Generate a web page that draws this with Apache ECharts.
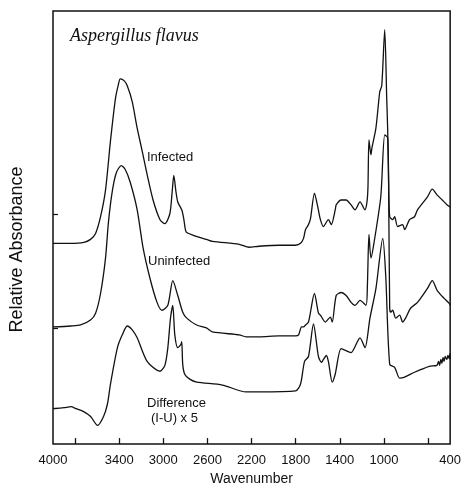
<!DOCTYPE html>
<html>
<head>
<meta charset="utf-8">
<script src="https://cdn.jsdelivr.net/npm/echarts@6/dist/echarts.min.js"></script>
<style>
  html, body { margin: 0; padding: 0; background: #fff; }
  #chart { width: 464px; height: 491px; }
</style>
</head>
<body>
<div id="chart"></div>
<script>
// [wavenumber, relative absorbance]
var infected = [
  [4000, 2.04], [3840, 2.04], [3720, 2.05], [3660, 2.08], [3614, 2.14], [3569, 2.31],
  [3524, 2.58], [3479, 3.08], [3434, 3.51], [3408, 3.65], [3390, 3.71], [3354, 3.69],
  [3327, 3.64], [3282, 3.48], [3237, 3.21], [3192, 2.98], [3147, 2.74], [3093, 2.48],
  [3030, 2.28], [2986, 2.24], [2941, 2.34], [2920, 2.56], [2905, 2.73], [2885, 2.56],
  [2869, 2.46], [2833, 2.38], [2815, 2.29], [2800, 2.18], [2788, 2.15], [2700, 2.11],
  [2609, 2.08], [2555, 2.06], [2312, 2.03], [2223, 2.00], [2133, 2.01], [1953, 2.02],
  [1801, 2.02], [1756, 2.04], [1729, 2.09], [1711, 2.18], [1684, 2.23], [1666, 2.29],
  [1630, 2.55], [1600, 2.41], [1576, 2.28], [1549, 2.21], [1504, 2.28], [1477, 2.23],
  [1440, 2.39], [1433, 2.43], [1388, 2.48], [1343, 2.48], [1298, 2.43], [1262, 2.38],
  [1217, 2.46], [1172, 2.38], [1154, 2.46], [1145, 2.61], [1136, 3.09], [1118, 2.94],
  [1109, 3.01], [1073, 3.21], [1038, 3.58], [1020, 3.64], [993, 4.21], [975, 3.51],
  [966, 3.18], [957, 2.61], [948, 2.31], [921, 2.28], [903, 2.31], [876, 2.21],
  [831, 2.23], [813, 2.18], [768, 2.28], [723, 2.31], [696, 2.38], [607, 2.51],
  [562, 2.59], [517, 2.53], [472, 2.48], [427, 2.43], [400, 2.41]
];
var uninfected = [
  [4000, 1.19], [3840, 1.20], [3750, 1.21], [3660, 1.26], [3614, 1.33], [3569, 1.53],
  [3524, 1.89], [3497, 2.26], [3461, 2.58], [3425, 2.76], [3381, 2.83], [3345, 2.79],
  [3300, 2.66], [3237, 2.38], [3183, 1.99], [3120, 1.68], [3057, 1.44], [3012, 1.36],
  [2959, 1.41], [2914, 1.66], [2869, 1.51], [2824, 1.34], [2788, 1.28], [2698, 1.21],
  [2609, 1.18], [2555, 1.14], [2312, 1.11], [2249, 1.09], [2133, 1.09], [1953, 1.10],
  [1801, 1.10], [1774, 1.11], [1747, 1.19], [1729, 1.19], [1711, 1.21], [1684, 1.24],
  [1630, 1.53], [1594, 1.33], [1576, 1.31], [1531, 1.24], [1486, 1.29], [1469, 1.24],
  [1433, 1.51], [1388, 1.54], [1343, 1.51], [1298, 1.44], [1262, 1.41], [1217, 1.46],
  [1163, 1.41], [1150, 1.62], [1136, 2.13], [1118, 1.89], [1091, 2.04], [1029, 2.51],
  [993, 3.14], [966, 3.11], [957, 2.51], [948, 1.38], [939, 1.34], [921, 1.36],
  [894, 1.28], [858, 1.31], [831, 1.24], [804, 1.28], [759, 1.38], [696, 1.44],
  [607, 1.58], [562, 1.66], [517, 1.56], [454, 1.48], [409, 1.43], [400, 1.41]
];
var difference = [
  [4000, 0.36], [3900, 0.37], [3838, 0.38], [3790, 0.36], [3722, 0.33], [3659, 0.28],
  [3596, 0.19], [3542, 0.28], [3506, 0.41], [3479, 0.61], [3416, 0.98], [3372, 1.11],
  [3327, 1.20], [3282, 1.16], [3237, 1.08], [3147, 0.84], [3030, 0.74], [2986, 0.80],
  [2959, 0.98], [2935, 1.28], [2914, 1.41], [2896, 1.11], [2869, 0.98], [2842, 1.01],
  [2833, 1.04], [2824, 0.81], [2806, 0.71], [2761, 0.66], [2698, 0.63], [2465, 0.60],
  [2249, 0.53], [2133, 0.53], [1801, 0.54], [1756, 0.61], [1720, 0.84], [1684, 0.89],
  [1639, 1.22], [1594, 0.89], [1567, 0.83], [1549, 0.86], [1522, 0.90], [1504, 0.84],
  [1469, 0.63], [1442, 0.71], [1388, 0.97], [1325, 0.94], [1298, 0.93], [1217, 1.08],
  [1172, 0.98], [1127, 1.28], [1073, 1.58], [1011, 2.09], [984, 1.71], [948, 0.81],
  [903, 0.78], [858, 0.67], [813, 0.68], [723, 0.73], [589, 0.79], [520, 0.80],
  [505, 0.84], [495, 0.80], [485, 0.86], [475, 0.82], [465, 0.88], [455, 0.84],
  [445, 0.89], [430, 0.86], [420, 0.90], [410, 0.87], [402, 0.92], [400, 0.86]
];

var tickWn = [600, 1000, 1400, 1800, 2200, 2600, 3000, 3400, 3800];
var labelWn = [400, 1000, 1400, 1800, 2200, 2600, 3000, 3400, 4000];
var baselineTicks = [0.36, 1.18, 2.34];

var chart = echarts.init(document.getElementById("chart"));

function line(name, data) {
  return {
    name: name,
    type: "line",
    data: data,
    showSymbol: false,
    smooth: 0.25,
    lineStyle: { color: "#111", width: 1.3 },
    silent: true
  };
}

var txt = "13px 'Liberation Sans'";

var option = {
  animation: false,
  backgroundColor: "#fff",
  title: {
    text: "Aspergillus flavus",
    left: 65,
    top: 22,
    textStyle: {
      fontFamily: "Liberation Serif",
      fontStyle: "italic",
      fontWeight: "normal",
      fontSize: 18,
      color: "#111"
    }
  },
  grid: {
    left: 52,
    right: 11,
    top: 11,
    bottom: 40,
    show: true,
    borderColor: "#111",
    borderWidth: 1.5
  },
  xAxis: {
    type: "value",
    inverse: true,
    min: 400,
    max: 4000,
    name: "Wavenumber",
    nameLocation: "middle",
    nameGap: 27,
    nameTextStyle: { fontFamily: "Liberation Sans", fontSize: 14, color: "#111" },
    axisLine: { show: false },
    splitLine: { show: false },
    axisTick: {
      show: true,
      inside: true,
      length: 6,
      customValues: tickWn,
      lineStyle: { color: "#111", width: 1.3 }
    },
    axisLabel: {
      customValues: labelWn,
      formatter: function (v) { return String(v); },
      margin: 10,
      fontFamily: "Liberation Sans",
      fontSize: 13,
      color: "#111"
    }
  },
  yAxis: {
    type: "value",
    min: 0,
    max: 4.4,
    name: "Relative Absorbance",
    nameLocation: "middle",
    nameRotate: 90,
    nameGap: 27,
    nameTextStyle: {
      fontFamily: "Liberation Sans",
      fontSize: 18,
      color: "#111",
      padding: [0, 44, 0, 0]
    },
    axisLine: { show: false },
    splitLine: { show: false },
    axisLabel: { show: false },
    axisTick: {
      show: true,
      inside: true,
      length: 5,
      customValues: baselineTicks,
      lineStyle: { color: "#111", width: 1.2 }
    }
  },
  graphic: [
    { type: "text", left: 147, top: 151, style: { text: "Infected", font: txt, fill: "#111" } },
    { type: "text", left: 148, top: 255, style: { text: "Uninfected", font: txt, fill: "#111" } },
    { type: "text", left: 147, top: 397, style: { text: "Difference", font: txt, fill: "#111" } },
    { type: "text", left: 151, top: 412, style: { text: "(I-U) x 5", font: txt, fill: "#111" } }
  ],
  series: [
    line("Infected", infected),
    line("Uninfected", uninfected),
    line("Difference (I-U) x 5", difference)
  ]
};

chart.setOption(option);
</script>
</body>
</html>
